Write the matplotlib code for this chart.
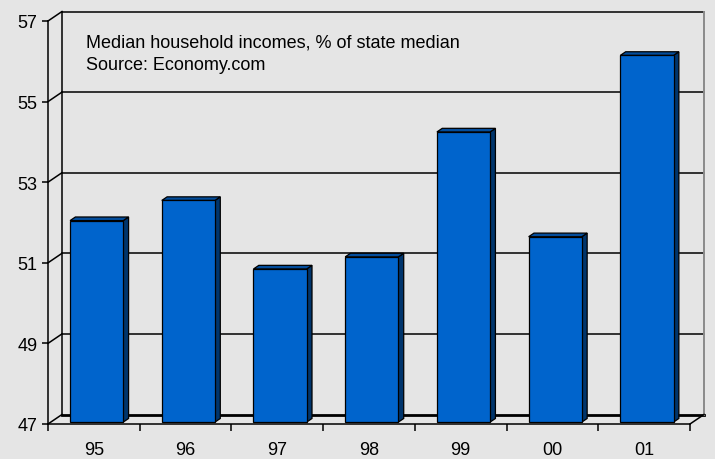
import matplotlib
matplotlib.use("Agg")
import matplotlib.pyplot as plt
from matplotlib.patches import Polygon

plt.rcParams['font.family'] = ['Liberation Sans', 'DejaVu Sans']

# Data
years = ["95", "96", "97", "98", "99", "00", "01"]
values = [52.0, 52.5, 50.8, 51.1, 54.2, 51.6, 56.1]
y_ticks = [47, 49, 51, 53, 55, 57]
title_lines = ["Median household incomes, % of state median", "Source: Economy.com"]

BG = "#e5e5e5"
FRONT = "#0064cc"
TOP = "#034d9c"
SIDE = "#00356c"

W, H, DPI = 715, 460, 100
fig = plt.figure(figsize=(W / DPI, H / DPI), dpi=DPI, facecolor=BG)

# front plane of the 3D box, in pixels
left_px, right_px, bot_px, top_px = 48, 690, 425, 22
ax = fig.add_axes([left_px / W, (H - bot_px) / H,
                   (right_px - left_px) / W, (bot_px - top_px) / H])
ax.set_facecolor("none")
ymin, ymax = 47, 57
xmin, xmax = -0.5, len(years) - 0.5
ax.set_xlim(xmin, xmax)
ax.set_ylim(ymin, ymax)

# depth of the box in pixels, converted to data units
DEPTH_X, DEPTH_Y = 14, 9.5
px_per_x = (right_px - left_px) / (xmax - xmin)
px_per_y = (bot_px - top_px) / (ymax - ymin)
ddx = DEPTH_X / px_per_x
ddy = DEPTH_Y / px_per_y

lw = 1.1
# back wall gridlines and left wall diagonals
for yv in y_ticks:
    ax.plot([xmin + ddx, xmax + ddx], [yv + ddy, yv + ddy], color="black",
            lw=2.0 if yv == ymin else lw, clip_on=False, zorder=1)
    ax.plot([xmin, xmin + ddx], [yv, yv + ddy], color="black", lw=lw,
            clip_on=False, zorder=1)
ax.plot([xmin + ddx, xmin + ddx], [ymin + ddy, ymax + ddy], color="black",
        lw=lw, clip_on=False, zorder=1)
ax.plot([xmax + ddx, xmax + ddx], [ymin + ddy, ymax + ddy], color="#8a8a8a",
        lw=1.4, clip_on=False, zorder=1)
ax.plot([xmax, xmax + ddx], [ymin, ymin + ddy], color="black", lw=lw,
        clip_on=False, zorder=1)

# 3D bars
bw = 0.58
f0, f1 = 0.2, 0.58
for i, v in enumerate(values):
    xl = i - bw / 2
    xr = i + bw / 2
    front = [(xl + f0 * ddx, ymin + f0 * ddy), (xr + f0 * ddx, ymin + f0 * ddy),
             (xr + f0 * ddx, v + f0 * ddy), (xl + f0 * ddx, v + f0 * ddy)]
    side = [(xr + f0 * ddx, ymin + f0 * ddy), (xr + f1 * ddx, ymin + f1 * ddy),
            (xr + f1 * ddx, v + f1 * ddy), (xr + f0 * ddx, v + f0 * ddy)]
    top = [(xl + f0 * ddx, v + f0 * ddy), (xr + f0 * ddx, v + f0 * ddy),
           (xr + f1 * ddx, v + f1 * ddy), (xl + f1 * ddx, v + f1 * ddy)]
    for pts, col in ((side, SIDE), (top, TOP), (front, FRONT)):
        ax.add_patch(Polygon(pts, closed=True, facecolor=col, edgecolor="black",
                             lw=0.9, clip_on=False, zorder=3, joinstyle="miter"))

# front axes
for s in ("top", "right"):
    ax.spines[s].set_visible(False)
for s in ("left", "bottom"):
    ax.spines[s].set_color("black")
    ax.spines[s].set_linewidth(lw)
    ax.spines[s].set_zorder(4)

FS = 13
ax.set_yticks(y_ticks)
ax.set_yticklabels([str(t) for t in y_ticks])
ax.tick_params(axis="y", direction="out", length=4.3, width=lw, pad=3.4,
               labelsize=FS, colors="black")

ax.set_xticks([k - 0.5 for k in range(len(years) + 1)])
ax.set_xticklabels([])
ax.tick_params(axis="x", which="major", direction="out", length=5, width=lw)
ax.set_xticks(range(len(years)), minor=True)
ax.set_xticklabels(years, minor=True)
ax.tick_params(axis="x", which="minor", length=0, pad=12, labelsize=FS,
               colors="black")

# title block
fig.text(86 / W, 1 - 48 / H, title_lines[0], fontsize=FS, va="baseline",
         ha="left", color="black")
fig.text(86 / W, 1 - 70.5 / H, title_lines[1], fontsize=FS, va="baseline",
         ha="left", color="black")

fig.savefig("out.png", dpi=DPI, facecolor=BG)
